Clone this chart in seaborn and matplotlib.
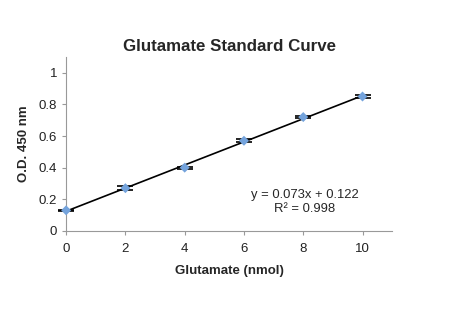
import matplotlib
matplotlib.use("Agg")
import matplotlib.pyplot as plt
import seaborn as sns
import numpy as np
import pandas as pd

glutamate = [0, 2, 4, 6, 8, 10]
od450 = [0.13, 0.27, 0.40, 0.57, 0.72, 0.85]
od_err = [0.005, 0.012, 0.006, 0.010, 0.008, 0.012]
xticks = [0, 2, 4, 6, 8, 10]
yticks = [0, 0.2, 0.4, 0.6, 0.8, 1]
ytick_labels = ["0", "0.2", "0.4", "0.6", "0.8", "1"]

sns.set_style("white")
plt.rcParams['font.family'] = ['Liberation Sans', 'DejaVu Sans']

df = pd.DataFrame({"x": glutamate, "y": od450})

fig = plt.figure(figsize=(4.56, 3.22), dpi=100)
ax = fig.add_axes([0.145, 0.283, 0.715, 0.54])

eb = ax.errorbar(glutamate, od450, yerr=od_err, fmt='none', ecolor='black',
                 elinewidth=1, capsize=6, capthick=1.2, zorder=2)
for artist in eb.lines[1] + eb.lines[2]:
    artist.set_clip_on(False)
sns.regplot(data=df, x="x", y="y", ci=None, scatter=False, ax=ax,
            line_kws=dict(color='black', lw=1.2, zorder=3), truncate=True)
sns.scatterplot(data=df, x="x", y="y", marker='D', s=26, color='#74a3dc',
                edgecolor='none', ax=ax, zorder=4, clip_on=False)

ax.set_xlim(0, 11)
ax.set_ylim(0, 1.1)
ax.set_xticks(xticks)
ax.set_yticks(yticks)
ax.set_yticklabels(ytick_labels)
ax.tick_params(axis='both', labelsize=9.5, colors='#222222', length=3,
               width=0.8, direction='out', bottom=True, left=True)
ax.tick_params(axis='x', pad=6, color='#999999')
ax.tick_params(axis='y', color='#999999')
for s in ['top', 'right']:
    ax.spines[s].set_visible(False)
for s in ['left', 'bottom']:
    ax.spines[s].set_color('#999999')
    ax.spines[s].set_linewidth(0.8)

ax.set_xlabel("Glutamate (nmol)", fontsize=9.5, fontweight='bold', labelpad=7)
ax.set_ylabel("O.D. 450 nm", fontsize=9.5, fontweight='bold', labelpad=6)
ax.set_title("Glutamate Standard Curve", fontsize=12.2, fontweight='bold', pad=4)

ax.text(8.05, 0.23, "y = 0.073x + 0.122", ha='center', va='center', fontsize=9.4)
ax.text(8.05, 0.14, "R² = 0.998", ha='center', va='center', fontsize=9.4)

fig.savefig("out.png", dpi=100)
